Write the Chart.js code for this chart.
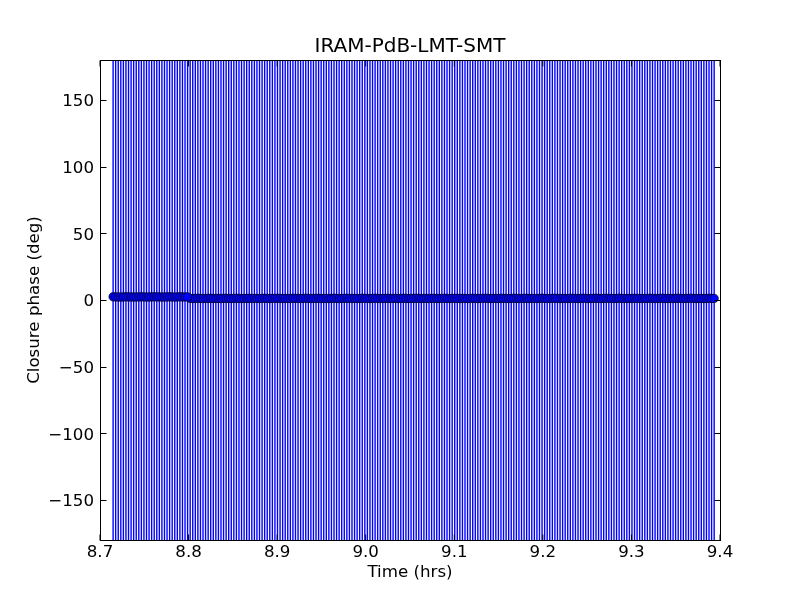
<!DOCTYPE html>
<html><head><meta charset="utf-8">
<script src="https://cdn.jsdelivr.net/npm/chart.js@4"></script>
<style>html,body{margin:0;padding:0;background:#fff}canvas{display:block}</style>
</head><body>
<canvas id="c" width="800" height="600"></canvas>
<script>
const titleText = 'IRAM-PdB-LMT-SMT';
const xLabel = 'Time (hrs)';
const yLabel = 'Closure phase (deg)';
const xTicks = [8.7, 8.8, 8.9, 9.0, 9.1, 9.2, 9.3, 9.4];
const yTicks = [-150, -100, -50, 0, 50, 100, 150];

const timesA = [8.7148, 8.7177, 8.7206, 8.7235, 8.7264, 8.7293, 8.7322, 8.7351, 8.7380, 8.7409,
  8.7438, 8.7467, 8.7496, 8.7525, 8.7554, 8.7583, 8.7612, 8.7641, 8.7670, 8.7699,
  8.7728, 8.7757, 8.7786, 8.7815, 8.7844, 8.7873, 8.7902, 8.7931, 8.7960, 8.7989];
const phaseA = [2.4, 2.3, 2.3, 2.2, 2.3, 2.4, 2.3, 2.3, 2.2, 2.3,
  2.3, 2.4, 2.3, 2.2, 2.3, 2.3, 2.4, 2.3, 2.3, 2.2,
  2.3, 2.3, 2.4, 2.3, 2.2, 2.3, 2.4, 2.3, 2.3, 2.3];
const errA = [205, 198, 210, 202, 215, 200, 207, 199, 212, 204,
  201, 209, 196, 213, 203, 206, 198, 211, 200, 208,
  202, 197, 214, 205, 199, 210, 203, 207, 201, 206];

const timesB = [8.8018, 8.8047, 8.8076, 8.8105, 8.8134, 8.8163, 8.8192, 8.8221, 8.8250, 8.8279,
  8.8308, 8.8337, 8.8366, 8.8395, 8.8424, 8.8453, 8.8482, 8.8511, 8.8540, 8.8569,
  8.8598, 8.8627, 8.8656, 8.8685, 8.8714, 8.8743, 8.8772, 8.8801, 8.8830, 8.8859,
  8.8888, 8.8917, 8.8946, 8.8975, 8.9004, 8.9033, 8.9062, 8.9091, 8.9120, 8.9149,
  8.9178, 8.9207, 8.9236, 8.9265, 8.9294, 8.9323, 8.9352, 8.9381, 8.9410, 8.9439,
  8.9468, 8.9497, 8.9526, 8.9555, 8.9584, 8.9613, 8.9642, 8.9671, 8.9700, 8.9729,
  8.9758, 8.9787, 8.9816, 8.9845, 8.9874, 8.9903, 8.9932, 8.9961, 8.9990, 9.0019,
  9.0048, 9.0077, 9.0106, 9.0135, 9.0164, 9.0193, 9.0222, 9.0251, 9.0280, 9.0309,
  9.0338, 9.0367, 9.0396, 9.0425, 9.0454, 9.0483, 9.0512, 9.0541, 9.0570, 9.0599,
  9.0628, 9.0657, 9.0686, 9.0715, 9.0744, 9.0773, 9.0802, 9.0831, 9.0860, 9.0889,
  9.0918, 9.0947, 9.0976, 9.1005, 9.1034, 9.1063, 9.1092, 9.1121, 9.1150, 9.1179,
  9.1208, 9.1237, 9.1266, 9.1295, 9.1324, 9.1353, 9.1382, 9.1411, 9.1440, 9.1469,
  9.1498, 9.1527, 9.1556, 9.1585, 9.1614, 9.1643, 9.1672, 9.1701, 9.1730, 9.1759,
  9.1788, 9.1817, 9.1846, 9.1875, 9.1904, 9.1933, 9.1962, 9.1991, 9.2020, 9.2049,
  9.2078, 9.2107, 9.2136, 9.2165, 9.2194, 9.2223, 9.2252, 9.2281, 9.2310, 9.2339,
  9.2368, 9.2397, 9.2426, 9.2455, 9.2484, 9.2513, 9.2542, 9.2571, 9.2600, 9.2629,
  9.2658, 9.2687, 9.2716, 9.2745, 9.2774, 9.2803, 9.2832, 9.2861, 9.2890, 9.2919,
  9.2948, 9.2977, 9.3006, 9.3035, 9.3064, 9.3093, 9.3122, 9.3151, 9.3180, 9.3209,
  9.3238, 9.3267, 9.3296, 9.3325, 9.3354, 9.3383, 9.3412, 9.3441, 9.3470, 9.3499,
  9.3528, 9.3557, 9.3586, 9.3615, 9.3644, 9.3673, 9.3702, 9.3731, 9.3760, 9.3789,
  9.3818, 9.3847, 9.3876, 9.3905, 9.3934];
const phaseB = [1.2, 1.1, 1.2, 1.3, 1.2, 1.1, 1.2, 1.2, 1.3, 1.1,
  1.2, 1.2, 1.1, 1.3, 1.2, 1.2, 1.1, 1.2, 1.3, 1.2,
  1.1, 1.2, 1.2, 1.3, 1.1, 1.2, 1.2, 1.1, 1.2, 1.3,
  1.2, 1.1, 1.2, 1.2, 1.3, 1.2, 1.1, 1.2, 1.2, 1.1,
  1.3, 1.2, 1.2, 1.1, 1.2, 1.3, 1.2, 1.1, 1.2, 1.2,
  1.3, 1.1, 1.2, 1.2, 1.1, 1.2, 1.3, 1.2, 1.1, 1.2,
  1.2, 1.3, 1.2, 1.1, 1.2, 1.2, 1.1, 1.3, 1.2, 1.2,
  1.1, 1.2, 1.3, 1.2, 1.1, 1.2, 1.2, 1.3, 1.1, 1.2,
  1.2, 1.1, 1.2, 1.3, 1.2, 1.1, 1.2, 1.2, 1.3, 1.2,
  1.1, 1.2, 1.2, 1.1, 1.3, 1.2, 1.2, 1.1, 1.2, 1.3,
  1.2, 1.1, 1.2, 1.2, 1.3, 1.1, 1.2, 1.2, 1.1, 1.2,
  1.3, 1.2, 1.1, 1.2, 1.2, 1.3, 1.2, 1.1, 1.2, 1.2,
  1.1, 1.3, 1.2, 1.2, 1.1, 1.2, 1.3, 1.2, 1.1, 1.2,
  1.2, 1.3, 1.1, 1.2, 1.2, 1.1, 1.2, 1.3, 1.2, 1.1,
  1.2, 1.2, 1.3, 1.2, 1.1, 1.2, 1.2, 1.1, 1.3, 1.2,
  1.2, 1.1, 1.2, 1.3, 1.2, 1.1, 1.2, 1.2, 1.3, 1.2,
  1.1, 1.2, 1.3, 1.2, 1.2, 1.1, 1.2, 1.3, 1.2, 1.1,
  1.2, 1.2, 1.1, 1.3, 1.2, 1.2, 1.1, 1.2, 1.2, 1.3,
  1.2, 1.1, 1.2, 1.2, 1.3, 1.1, 1.2, 1.2, 1.1, 1.2,
  1.3, 1.2, 1.1, 1.2, 1.2, 1.3, 1.2, 1.1, 1.2, 1.2,
  1.1, 1.2, 1.3, 1.2, 1.2];
const errB = [203, 208, 199, 212, 205, 201, 210, 197, 206, 214,
  200, 209, 203, 198, 211, 204, 207, 196, 213, 202,
  208, 199, 205, 212, 201, 206, 210, 197, 204, 209,
  215, 200, 203, 207, 198, 211, 205, 202, 208, 196,
  213, 204, 199, 210, 206, 201, 209, 203, 197, 212,
  205, 208, 200, 214, 202, 207, 198, 211, 204, 206,
  199, 210, 203, 208, 201, 213, 196, 205, 209, 202,
  207, 211, 198, 204, 212, 200, 206, 203, 209, 197,
  214, 205, 201, 208, 210, 199, 204, 207, 202, 211,
  196, 213, 206, 200, 209, 203, 205, 198, 212, 204,
  208, 201, 210, 197, 206, 214, 202, 207, 199, 211,
  204, 209, 200, 213, 205, 198, 203, 210, 206, 201,
  212, 197, 208, 204, 211, 199, 207, 202, 214, 205,
  200, 209, 196, 206, 203, 212, 208, 201, 210, 204,
  198, 207, 213, 202, 205, 199, 211, 206, 203, 209,
  200, 214, 204, 197, 208, 210, 202, 206, 199, 212,
  205, 201, 209, 203, 207, 198, 212, 204, 200, 210,
  206, 213, 199, 205, 208, 202, 211, 197, 204, 209,
  201, 207, 214, 203, 198, 210, 205, 200, 212, 206,
  199, 208, 203, 211, 196, 205, 209, 202, 207, 213,
  204, 200, 210, 206, 201];

const fmtX = v => Number(v).toFixed(1);
const fmtY = v => (v < 0 ? '\u2212' : '') + Math.abs(v);
const FS = 16.67;

const errorBars = {
  id: 'errorBars',
  beforeDatasetsDraw(chart) {
    const { ctx, chartArea: a, scales: { x, y } } = chart;
    ctx.save();
    ctx.beginPath();
    ctx.rect(a.left, a.top, a.right - a.left, a.bottom - a.top);
    ctx.clip();
    ctx.strokeStyle = '#0000ff';
    ctx.lineWidth = 1.39;
    chart.data.datasets.forEach(ds => {
      ds.data.forEach(p => {
        const px = x.getPixelForValue(p.x);
        ctx.beginPath();
        ctx.moveTo(px, y.getPixelForValue(p.y - p.e));
        ctx.lineTo(px, y.getPixelForValue(p.y + p.e));
        ctx.stroke();
      });
    });
    ctx.restore();
  }
};

const frame = {
  id: 'frame',
  afterDraw(chart) {
    const { ctx, chartArea: a, scales: { x, y } } = chart;
    const L = Math.round(a.left) + 0.5, R = Math.round(a.right) + 0.5;
    const T = Math.round(a.top) + 0.5, B = Math.round(a.bottom) + 0.5;
    ctx.save();
    ctx.strokeStyle = '#000';
    ctx.lineWidth = 1;
    ctx.strokeRect(L, T, R - L, B - T);
    const tl = 6;
    ctx.beginPath();
    xTicks.forEach(v => {
      const px = x.getPixelForValue(v);
      ctx.moveTo(px, B); ctx.lineTo(px, B - tl);
      ctx.moveTo(px, T); ctx.lineTo(px, T + tl);
    });
    yTicks.forEach(v => {
      const py = Math.round(y.getPixelForValue(v)) + 0.5;
      ctx.moveTo(L, py); ctx.lineTo(L + tl, py);
      ctx.moveTo(R, py); ctx.lineTo(R - tl, py);
    });
    ctx.stroke();
    ctx.restore();
  }
};

new Chart(document.getElementById('c'), {
  type: 'scatter',
  data: {
    datasets: [
      { data: timesA.map((t, i) => ({ x: t, y: phaseA[i], e: errA[i] })) },
      { data: timesB.map((t, i) => ({ x: t, y: phaseB[i], e: errB[i] })) }
    ].map(d => Object.assign(d, {
      pointRadius: 4.2, pointHoverRadius: 4.2,
      backgroundColor: '#0000ff', borderColor: '#000', borderWidth: 0.7,
      showLine: false
    }))
  },
  options: {
    responsive: false,
    devicePixelRatio: 1,
    animation: false,
    layout: { padding: { left: 0, right: 80, top: 0, bottom: 0 } },
    plugins: {
      legend: { display: false },
      tooltip: { enabled: false },
      title: {
        display: true, text: titleText, color: '#000', fullSize: false,
        font: { family: 'DejaVu Sans', size: 20, weight: 'normal' },
        padding: { top: 35, bottom: 1 }
      }
    },
    scales: {
      x: {
        type: 'linear', min: 8.7, max: 9.4,
        afterBuildTicks: s => { s.ticks = xTicks.map(v => ({ value: v })); },
        afterFit: s => { s.height = 60; },
        grid: { display: false, drawTicks: false },
        border: { display: false },
        ticks: { color: '#000', font: { family: 'DejaVu Sans', size: FS }, padding: 3,
          maxRotation: 0, autoSkip: false, callback: v => fmtX(v) },
        title: { display: true, text: xLabel, color: '#000',
          font: { family: 'DejaVu Sans', size: FS }, padding: { top: 0, bottom: 17 } }
      },
      y: {
        type: 'linear', min: -180, max: 180,
        afterBuildTicks: s => { s.ticks = yTicks.map(v => ({ value: v })); },
        afterFit: s => { s.width = 100; },
        grid: { display: false, drawTicks: false },
        border: { display: false },
        ticks: { color: '#000', font: { family: 'DejaVu Sans', size: FS }, padding: 6,
          labelOffset: 2, autoSkip: false, callback: v => fmtY(v) },
        title: { display: true, text: yLabel, color: '#000',
          font: { family: 'DejaVu Sans', size: FS }, padding: { top: 25, bottom: 0 } }
      }
    }
  },
  plugins: [errorBars, frame]
});
</script>
</body></html>
